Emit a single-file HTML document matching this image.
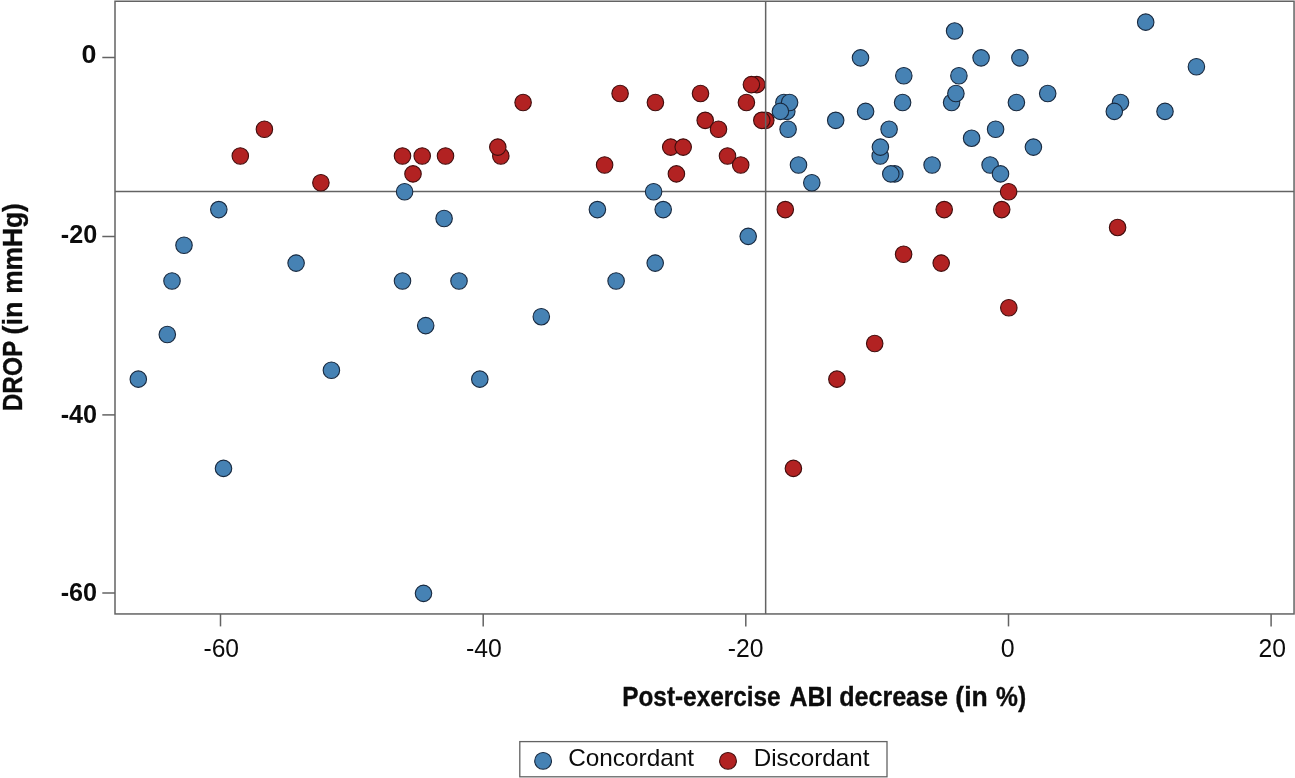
<!DOCTYPE html>
<html><head><meta charset="utf-8"><title>Scatter</title>
<style>
html,body{margin:0;padding:0;background:#fff;}
svg{display:block;font-family:"Liberation Sans",sans-serif;}
</style></head>
<body>
<svg width="1295" height="778" viewBox="0 0 1295 778">
<rect x="0" y="0" width="1295" height="778" fill="#ffffff"/>
<g stroke="#636363" stroke-width="1.5" fill="none">
<rect x="115.0" y="1.25" width="1179.05" height="612.7"/>
<line x1="220.5" y1="613.95" x2="220.5" y2="626.4" /><line x1="483.2" y1="613.95" x2="483.2" y2="626.4" /><line x1="745.8" y1="613.95" x2="745.8" y2="626.4" /><line x1="1008.5" y1="613.95" x2="1008.5" y2="626.4" /><line x1="1271.1" y1="613.95" x2="1271.1" y2="626.4" />
<line x1="102.3" y1="57.5" x2="115.0" y2="57.5" /><line x1="102.3" y1="236.5" x2="115.0" y2="236.5" /><line x1="102.3" y1="414.9" x2="115.0" y2="414.9" /><line x1="102.3" y1="593.0" x2="115.0" y2="593.0" />
<line x1="115.0" y1="191.5" x2="1294.05" y2="191.5"/>
</g>
<g>
<circle cx="138.3" cy="379.15" r="8.25" fill="#4682b4" stroke="#18293f" stroke-width="1.1"/>
<circle cx="167.3" cy="334.53" r="8.25" fill="#4682b4" stroke="#18293f" stroke-width="1.1"/>
<circle cx="172.0" cy="280.98" r="8.25" fill="#4682b4" stroke="#18293f" stroke-width="1.1"/>
<circle cx="184.0" cy="245.28" r="8.25" fill="#4682b4" stroke="#18293f" stroke-width="1.1"/>
<circle cx="218.8" cy="209.58" r="8.25" fill="#4682b4" stroke="#18293f" stroke-width="1.1"/>
<circle cx="223.5" cy="468.4" r="8.25" fill="#4682b4" stroke="#18293f" stroke-width="1.1"/>
<circle cx="296.1" cy="263.12" r="8.25" fill="#4682b4" stroke="#18293f" stroke-width="1.1"/>
<circle cx="331.4" cy="370.23" r="8.25" fill="#4682b4" stroke="#18293f" stroke-width="1.1"/>
<circle cx="402.5" cy="280.98" r="8.25" fill="#4682b4" stroke="#18293f" stroke-width="1.1"/>
<circle cx="404.6" cy="191.72" r="8.25" fill="#4682b4" stroke="#18293f" stroke-width="1.1"/>
<circle cx="425.7" cy="325.6" r="8.25" fill="#4682b4" stroke="#18293f" stroke-width="1.1"/>
<circle cx="423.5" cy="593.35" r="8.25" fill="#4682b4" stroke="#18293f" stroke-width="1.1"/>
<circle cx="444.1" cy="218.5" r="8.25" fill="#4682b4" stroke="#18293f" stroke-width="1.1"/>
<circle cx="459.0" cy="280.98" r="8.25" fill="#4682b4" stroke="#18293f" stroke-width="1.1"/>
<circle cx="479.8" cy="379.15" r="8.25" fill="#4682b4" stroke="#18293f" stroke-width="1.1"/>
<circle cx="541.3" cy="316.68" r="8.25" fill="#4682b4" stroke="#18293f" stroke-width="1.1"/>
<circle cx="597.4" cy="209.58" r="8.25" fill="#4682b4" stroke="#18293f" stroke-width="1.1"/>
<circle cx="616.1" cy="280.98" r="8.25" fill="#4682b4" stroke="#18293f" stroke-width="1.1"/>
<circle cx="653.6" cy="191.72" r="8.25" fill="#4682b4" stroke="#18293f" stroke-width="1.1"/>
<circle cx="655.2" cy="263.12" r="8.25" fill="#4682b4" stroke="#18293f" stroke-width="1.1"/>
<circle cx="663.2" cy="209.58" r="8.25" fill="#4682b4" stroke="#18293f" stroke-width="1.1"/>
<circle cx="748.2" cy="236.35" r="8.25" fill="#4682b4" stroke="#18293f" stroke-width="1.1"/>
<circle cx="240.3" cy="156.03" r="8.25" fill="#b22222" stroke="#400d0d" stroke-width="1.1"/>
<circle cx="264.4" cy="129.25" r="8.25" fill="#b22222" stroke="#400d0d" stroke-width="1.1"/>
<circle cx="320.9" cy="182.8" r="8.25" fill="#b22222" stroke="#400d0d" stroke-width="1.1"/>
<circle cx="402.5" cy="156.03" r="8.25" fill="#b22222" stroke="#400d0d" stroke-width="1.1"/>
<circle cx="413.0" cy="173.88" r="8.25" fill="#b22222" stroke="#400d0d" stroke-width="1.1"/>
<circle cx="422.2" cy="156.03" r="8.25" fill="#b22222" stroke="#400d0d" stroke-width="1.1"/>
<circle cx="445.5" cy="156.03" r="8.25" fill="#b22222" stroke="#400d0d" stroke-width="1.1"/>
<circle cx="500.8" cy="156.03" r="8.25" fill="#b22222" stroke="#400d0d" stroke-width="1.1"/>
<circle cx="497.8" cy="147.1" r="8.25" fill="#b22222" stroke="#400d0d" stroke-width="1.1"/>
<circle cx="523.1" cy="102.47" r="8.25" fill="#b22222" stroke="#400d0d" stroke-width="1.1"/>
<circle cx="604.6" cy="164.95" r="8.25" fill="#b22222" stroke="#400d0d" stroke-width="1.1"/>
<circle cx="620.1" cy="93.55" r="8.25" fill="#b22222" stroke="#400d0d" stroke-width="1.1"/>
<circle cx="655.4" cy="102.47" r="8.25" fill="#b22222" stroke="#400d0d" stroke-width="1.1"/>
<circle cx="670.7" cy="147.1" r="8.25" fill="#b22222" stroke="#400d0d" stroke-width="1.1"/>
<circle cx="683.2" cy="147.1" r="8.25" fill="#b22222" stroke="#400d0d" stroke-width="1.1"/>
<circle cx="676.4" cy="173.88" r="8.25" fill="#b22222" stroke="#400d0d" stroke-width="1.1"/>
<circle cx="700.5" cy="93.55" r="8.25" fill="#b22222" stroke="#400d0d" stroke-width="1.1"/>
<circle cx="705.2" cy="120.33" r="8.25" fill="#b22222" stroke="#400d0d" stroke-width="1.1"/>
<circle cx="718.5" cy="129.25" r="8.25" fill="#b22222" stroke="#400d0d" stroke-width="1.1"/>
<circle cx="727.5" cy="156.03" r="8.25" fill="#b22222" stroke="#400d0d" stroke-width="1.1"/>
<circle cx="740.7" cy="164.95" r="8.25" fill="#b22222" stroke="#400d0d" stroke-width="1.1"/>
<circle cx="746.4" cy="102.47" r="8.25" fill="#b22222" stroke="#400d0d" stroke-width="1.1"/>
<circle cx="756.8" cy="84.62" r="8.25" fill="#b22222" stroke="#400d0d" stroke-width="1.1"/>
<circle cx="751.4" cy="84.62" r="8.25" fill="#b22222" stroke="#400d0d" stroke-width="1.1"/>
<circle cx="765.8" cy="120.33" r="8.25" fill="#b22222" stroke="#400d0d" stroke-width="1.1"/>
<circle cx="761.8" cy="120.33" r="8.25" fill="#b22222" stroke="#400d0d" stroke-width="1.1"/>
<circle cx="783.9" cy="102.47" r="8.25" fill="#4682b4" stroke="#18293f" stroke-width="1.1"/>
<circle cx="786.8" cy="111.4" r="8.25" fill="#4682b4" stroke="#18293f" stroke-width="1.1"/>
<circle cx="789.6" cy="102.47" r="8.25" fill="#4682b4" stroke="#18293f" stroke-width="1.1"/>
<circle cx="780.4" cy="111.4" r="8.25" fill="#4682b4" stroke="#18293f" stroke-width="1.1"/>
<circle cx="788.1" cy="129.25" r="8.25" fill="#4682b4" stroke="#18293f" stroke-width="1.1"/>
<circle cx="798.5" cy="164.95" r="8.25" fill="#4682b4" stroke="#18293f" stroke-width="1.1"/>
<circle cx="811.8" cy="182.8" r="8.25" fill="#4682b4" stroke="#18293f" stroke-width="1.1"/>
<circle cx="835.7" cy="120.33" r="8.25" fill="#4682b4" stroke="#18293f" stroke-width="1.1"/>
<circle cx="860.5" cy="57.85" r="8.25" fill="#4682b4" stroke="#18293f" stroke-width="1.1"/>
<circle cx="865.6" cy="111.4" r="8.25" fill="#4682b4" stroke="#18293f" stroke-width="1.1"/>
<circle cx="880.2" cy="156.03" r="8.25" fill="#4682b4" stroke="#18293f" stroke-width="1.1"/>
<circle cx="880.4" cy="147.1" r="8.25" fill="#4682b4" stroke="#18293f" stroke-width="1.1"/>
<circle cx="889.1" cy="129.25" r="8.25" fill="#4682b4" stroke="#18293f" stroke-width="1.1"/>
<circle cx="894.8" cy="173.88" r="8.25" fill="#4682b4" stroke="#18293f" stroke-width="1.1"/>
<circle cx="890.8" cy="173.88" r="8.25" fill="#4682b4" stroke="#18293f" stroke-width="1.1"/>
<circle cx="903.8" cy="75.7" r="8.25" fill="#4682b4" stroke="#18293f" stroke-width="1.1"/>
<circle cx="902.6" cy="102.47" r="8.25" fill="#4682b4" stroke="#18293f" stroke-width="1.1"/>
<circle cx="932.1" cy="164.95" r="8.25" fill="#4682b4" stroke="#18293f" stroke-width="1.1"/>
<circle cx="951.6" cy="102.47" r="8.25" fill="#4682b4" stroke="#18293f" stroke-width="1.1"/>
<circle cx="955.9" cy="93.55" r="8.25" fill="#4682b4" stroke="#18293f" stroke-width="1.1"/>
<circle cx="954.6" cy="31.07" r="8.25" fill="#4682b4" stroke="#18293f" stroke-width="1.1"/>
<circle cx="958.9" cy="75.7" r="8.25" fill="#4682b4" stroke="#18293f" stroke-width="1.1"/>
<circle cx="971.6" cy="138.18" r="8.25" fill="#4682b4" stroke="#18293f" stroke-width="1.1"/>
<circle cx="981.1" cy="57.85" r="8.25" fill="#4682b4" stroke="#18293f" stroke-width="1.1"/>
<circle cx="990.1" cy="164.95" r="8.25" fill="#4682b4" stroke="#18293f" stroke-width="1.1"/>
<circle cx="995.6" cy="129.25" r="8.25" fill="#4682b4" stroke="#18293f" stroke-width="1.1"/>
<circle cx="1000.5" cy="173.88" r="8.25" fill="#4682b4" stroke="#18293f" stroke-width="1.1"/>
<circle cx="1016.4" cy="102.47" r="8.25" fill="#4682b4" stroke="#18293f" stroke-width="1.1"/>
<circle cx="1019.9" cy="57.85" r="8.25" fill="#4682b4" stroke="#18293f" stroke-width="1.1"/>
<circle cx="1033.4" cy="147.1" r="8.25" fill="#4682b4" stroke="#18293f" stroke-width="1.1"/>
<circle cx="1047.7" cy="93.55" r="8.25" fill="#4682b4" stroke="#18293f" stroke-width="1.1"/>
<circle cx="1120.5" cy="102.47" r="8.25" fill="#4682b4" stroke="#18293f" stroke-width="1.1"/>
<circle cx="1114.3" cy="111.4" r="8.25" fill="#4682b4" stroke="#18293f" stroke-width="1.1"/>
<circle cx="1145.7" cy="22.15" r="8.25" fill="#4682b4" stroke="#18293f" stroke-width="1.1"/>
<circle cx="1165.0" cy="111.4" r="8.25" fill="#4682b4" stroke="#18293f" stroke-width="1.1"/>
<circle cx="1196.4" cy="66.78" r="8.25" fill="#4682b4" stroke="#18293f" stroke-width="1.1"/>
<circle cx="785.3" cy="209.58" r="8.25" fill="#b22222" stroke="#400d0d" stroke-width="1.1"/>
<circle cx="793.4" cy="468.4" r="8.25" fill="#b22222" stroke="#400d0d" stroke-width="1.1"/>
<circle cx="836.9" cy="379.15" r="8.25" fill="#b22222" stroke="#400d0d" stroke-width="1.1"/>
<circle cx="874.7" cy="343.45" r="8.25" fill="#b22222" stroke="#400d0d" stroke-width="1.1"/>
<circle cx="903.6" cy="254.2" r="8.25" fill="#b22222" stroke="#400d0d" stroke-width="1.1"/>
<circle cx="941.2" cy="263.12" r="8.25" fill="#b22222" stroke="#400d0d" stroke-width="1.1"/>
<circle cx="944.2" cy="209.58" r="8.25" fill="#b22222" stroke="#400d0d" stroke-width="1.1"/>
<circle cx="1001.7" cy="209.58" r="8.25" fill="#b22222" stroke="#400d0d" stroke-width="1.1"/>
<circle cx="1008.6" cy="191.72" r="8.25" fill="#b22222" stroke="#400d0d" stroke-width="1.1"/>
<circle cx="1008.8" cy="307.75" r="8.25" fill="#b22222" stroke="#400d0d" stroke-width="1.1"/>
<circle cx="1117.6" cy="227.43" r="8.25" fill="#b22222" stroke="#400d0d" stroke-width="1.1"/>
</g>
<line x1="765.65" y1="1.25" x2="765.65" y2="613.95" stroke="#636363" stroke-width="1.5"/>
<rect x="519.8" y="741.6" width="367.2" height="35.2" fill="#fff" stroke="#636363" stroke-width="1.3"/>
<circle cx="543.1" cy="760.9" r="8.4" fill="#4682b4" stroke="#18293f" stroke-width="1.1"/>
<circle cx="728" cy="760.9" r="8.4" fill="#b22222" stroke="#400d0d" stroke-width="1.1"/>
<g fill="#0c0c0c" opacity="0.999">
<text id="xt1" x="622.20" y="705.9" font-size="27.6" font-weight="bold" stroke="#0c0c0c" stroke-width="0.35" textLength="158.48" lengthAdjust="spacingAndGlyphs">Post-exercise</text>
<text id="xt2" x="789.60" y="705.9" font-size="27.6" font-weight="bold" stroke="#0c0c0c" stroke-width="0.35" textLength="42.80" lengthAdjust="spacingAndGlyphs">ABI</text>
<text id="xt3" x="839.20" y="705.9" font-size="27.6" font-weight="bold" stroke="#0c0c0c" stroke-width="0.35" textLength="108.78" lengthAdjust="spacingAndGlyphs">decrease</text>
<text id="xt4" x="955.35" y="705.9" font-size="27.6" font-weight="bold" stroke="#0c0c0c" stroke-width="0.35" textLength="32.43" lengthAdjust="spacingAndGlyphs">(in</text>
<text id="xt5" x="996.00" y="705.9" font-size="27.6" font-weight="bold" stroke="#0c0c0c" stroke-width="0.35" textLength="30.08" lengthAdjust="spacingAndGlyphs">%)</text>
<text id="yt1" transform="translate(21.6,411.30) rotate(-90)" font-size="27.3" font-weight="bold" stroke="#0c0c0c" stroke-width="0.35" textLength="70.53" lengthAdjust="spacingAndGlyphs">DROP</text>
<text id="yt2" transform="translate(21.6,334.45) rotate(-90)" font-size="27.3" font-weight="bold" stroke="#0c0c0c" stroke-width="0.35" textLength="32.84" lengthAdjust="spacingAndGlyphs">(in</text>
<text id="yt3" transform="translate(21.6,293.80) rotate(-90)" font-size="27.3" font-weight="bold" stroke="#0c0c0c" stroke-width="0.35" textLength="90.58" lengthAdjust="spacingAndGlyphs">mmHg)</text>
<text id="lg1" x="568.15" y="765.5" font-size="23.4" textLength="125.91" lengthAdjust="spacingAndGlyphs">Concordant</text>
<text id="lg2" x="753.70" y="765.5" font-size="23.4" textLength="115.69" lengthAdjust="spacingAndGlyphs">Discordant</text>
<text id="yk0" x="81.55" y="63.1" font-size="24.9" font-weight="bold" textLength="14.90" lengthAdjust="spacingAndGlyphs">0</text>
<text id="yk20" x="60.80" y="243.0" font-size="24.9" font-weight="bold" textLength="36.38" lengthAdjust="spacingAndGlyphs">-20</text>
<text id="yk40" x="60.70" y="422.55" font-size="24.9" font-weight="bold" textLength="36.41" lengthAdjust="spacingAndGlyphs">-40</text>
<text id="yk60" x="60.70" y="600.6" font-size="24.9" font-weight="bold" textLength="36.41" lengthAdjust="spacingAndGlyphs">-60</text>
<text id="xk-60" x="203.45" y="656.7" font-size="24.9" textLength="35.61" lengthAdjust="spacingAndGlyphs">-60</text>
<text id="xk-40" x="466.00" y="656.7" font-size="24.9" textLength="35.82" lengthAdjust="spacingAndGlyphs">-40</text>
<text id="xk-20" x="727.80" y="656.7" font-size="24.9" textLength="35.72" lengthAdjust="spacingAndGlyphs">-20</text>
<text id="xk0" x="1000.80" y="656.7" font-size="24.9" textLength="13.87" lengthAdjust="spacingAndGlyphs">0</text>
<text id="xk20" x="1258.50" y="656.7" font-size="24.9" textLength="27.45" lengthAdjust="spacingAndGlyphs">20</text>
</g>
</svg>
</body></html>
